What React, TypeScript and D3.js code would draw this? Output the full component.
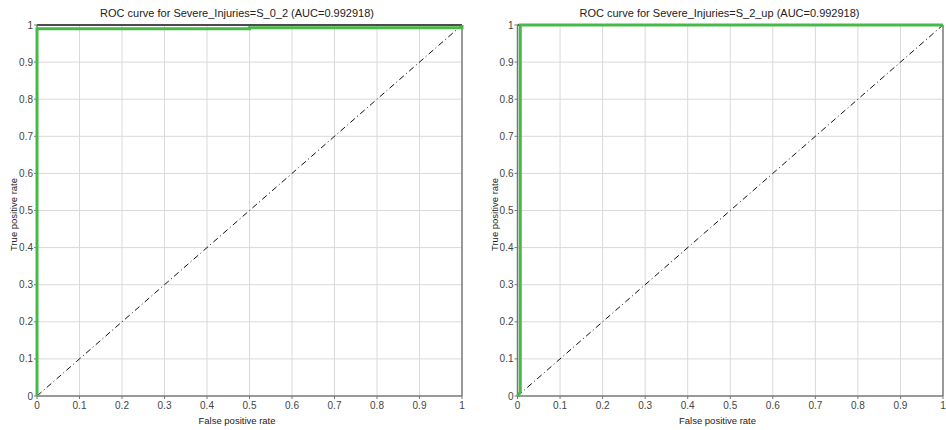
import React from "react";
import * as d3 from "d3";

const W = 946;
const H = 430;

const ticks = [0, 0.1, 0.2, 0.3, 0.4, 0.5, 0.6, 0.7, 0.8, 0.9, 1];
const titles = [
  "ROC curve for Severe_Injuries=S_0_2 (AUC=0.992918)",
  "ROC curve for Severe_Injuries=S_2_up (AUC=0.992918)",
];
const rocFpr1 = [0, 0, 0.5, 0.5, 1, 1];
const rocTpr1 = [0, 0.99, 0.99, 0.9927, 0.9927, 1];
const rocFpr2 = [0, 0.0065, 0.0065, 1];
const rocTpr2 = [0, 0.01, 1, 1];
const xLabel = "False positive rate";
const yLabel = "True positive rate";

const panels = [
  { x0: 37, x1: 462, titleX: 237, labelX: 237, ylabX: 17, fpr: rocFpr1, tpr: rocTpr1, title: titles[0] },
  { x0: 517.5, x1: 943, titleX: 719.5, labelX: 717.5, ylabX: 497.5, fpr: rocFpr2, tpr: rocTpr2, title: titles[1] },
];

const yTop = 25;
const yBot = 396;
const font = "Liberation Sans, Arial, sans-serif";

function Panel({ p }: { p: (typeof panels)[number] }) {
  const x = d3.scaleLinear().domain([0, 1]).range([p.x0, p.x1]);
  const y = d3.scaleLinear().domain([0, 1]).range([yBot, yTop]);
  const pts: [number, number][] = p.fpr.map((f, i) => [f, p.tpr[i]]);
  const line = d3
    .line<[number, number]>()
    .x((d) => x(d[0]))
    .y((d) => y(d[1]));
  return (
    <g>
      {ticks.slice(1, -1).map((t) => (
        <line key={"gx" + t} x1={x(t)} x2={x(t)} y1={yTop} y2={yBot} stroke="#d9d9d9" strokeWidth={1} />
      ))}
      {ticks.slice(1, -1).map((t) => (
        <line key={"gy" + t} x1={p.x0} x2={p.x1} y1={y(t)} y2={y(t)} stroke="#d9d9d9" strokeWidth={1} />
      ))}
      <line x1={x(0)} y1={y(0)} x2={x(1)} y2={y(1)} stroke="#111" strokeWidth={1} strokeDasharray="6,3,1,3" />
      <line x1={p.x0} x2={p.x1} y1={yTop} y2={yTop} stroke="#111" strokeWidth={1.5} />
      <line x1={p.x1} x2={p.x1} y1={yTop} y2={yBot} stroke="#777" strokeWidth={1.5} />
      <line x1={p.x0} x2={p.x1} y1={yBot} y2={yBot} stroke="#777" strokeWidth={1.5} />
      <line x1={p.x0} x2={p.x0} y1={yTop} y2={yBot} stroke="#777" strokeWidth={1.5} />
      {ticks.map((t) => (
        <g key={"tx" + t}>
          <line x1={x(t)} x2={x(t)} y1={yBot} y2={yBot + 3} stroke="#777" />
          <text x={x(t)} y={yBot + 13} textAnchor="middle" fontSize={10} fill="#444" fontFamily={font}>
            {String(t)}
          </text>
        </g>
      ))}
      {ticks.map((t) => (
        <g key={"ty" + t}>
          <line x1={p.x0 - 3} x2={p.x0} y1={y(t)} y2={y(t)} stroke="#777" />
          <text x={p.x0 - 4} y={y(t) + 3.5} textAnchor="end" fontSize={10} fill="#444" fontFamily={font}>
            {String(t)}
          </text>
        </g>
      ))}
      <path d={line(pts) || ""} fill="none" stroke="#47b947" strokeWidth={3} />
      <text x={p.titleX} y={17} textAnchor="middle" fontSize={11} fill="#222" fontFamily={font}>
        {p.title}
      </text>
      <text x={p.labelX} y={424} textAnchor="middle" fontSize={9.5} fill="#222" fontFamily={font}>
        {xLabel}
      </text>
      <text
        transform={`translate(${p.ylabX},${(yTop + yBot) / 2 + 4}) rotate(-90)`}
        textAnchor="middle"
        fontSize={9.5}
        fill="#222"
        fontFamily={font}
      >
        {yLabel}
      </text>
    </g>
  );
}

export default function App() {
  return (
    <svg width={W} height={H} style={{ position: "absolute", left: 0, top: 0, background: "#fff" }}>
      <rect width={W} height={H} fill="#fff" />
      {panels.map((p, i) => (
        <Panel key={i} p={p} />
      ))}
    </svg>
  );
}
